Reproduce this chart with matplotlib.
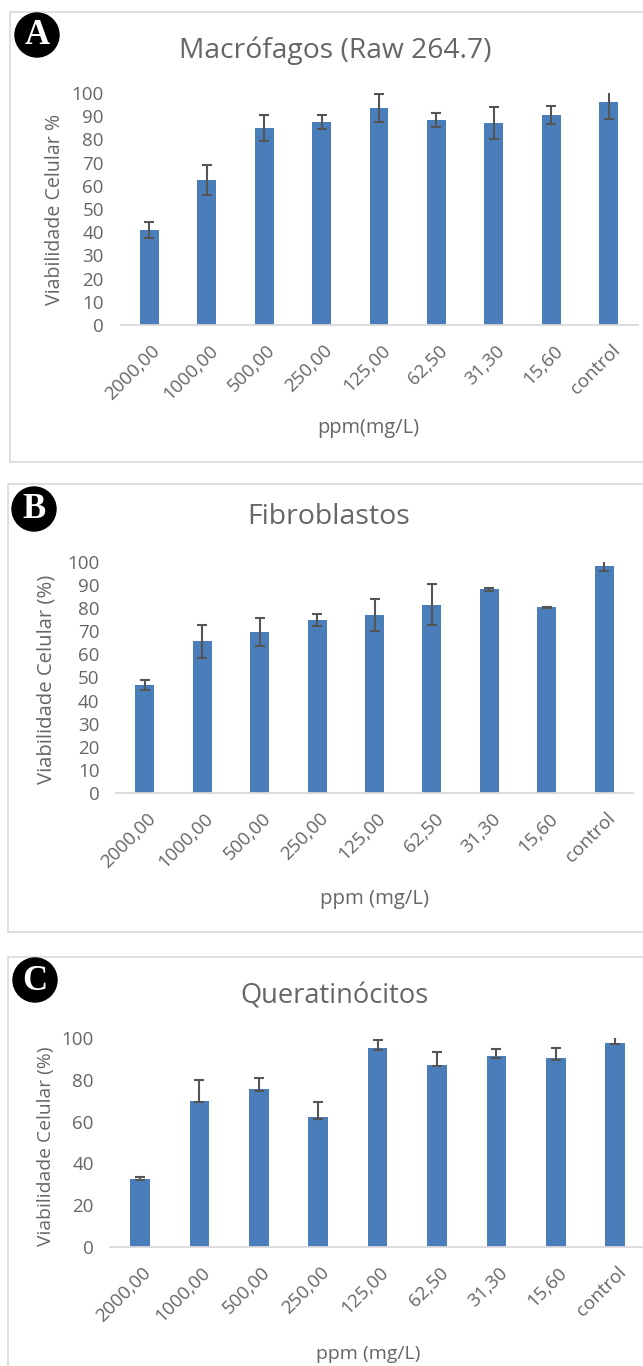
import matplotlib
matplotlib.use('Agg')
import matplotlib.pyplot as plt
from matplotlib.patches import Ellipse
from matplotlib.transforms import ScaledTranslation

W, H = 643, 1366
plt.rcParams['font.family'] = ['Open Sans', 'DejaVu Sans']

BAR = '#4a7ebb'
GREY = '#666666'
AXIS = '#d9d9d9'
ERR = '#555555'

doses = ['2000,00', '1000,00', '500,00', '250,00', '125,00', '62,50', '31,30', '15,60', 'control']

# panel A - macrofagos
mac_vals = [41, 62.5, 85, 87.5, 93.5, 88.5, 87, 90.5, 96]
mac_low = [3.5, 6.5, 5.5, 3, 6, 3, 7, 4, 7]
mac_up = [3.5, 6.5, 5.5, 3, 6, 3, 7, 4, 7]
mac_ticks = list(range(0, 101, 10))

# panel B - fibroblastos
fib_vals = [46.6, 65.6, 69.7, 75, 77, 81.2, 88.2, 80.4, 98.3]
fib_low = [2.2, 7, 6, 2.7, 7, 8.5, 0.7, 0.3, 2.2]
fib_up = [2.2, 7, 6, 2.7, 7, 9.3, 0.7, 0.3, 2.2]
fib_ticks = list(range(0, 101, 10))

# panel C - queratinocitos
que_vals = [32.6, 70, 75.5, 62, 95, 87.3, 91.4, 90.3, 97.8]
que_low = [0.6, 0.5, 0.8, 0.7, 0.6, 0.6, 0.8, 0.8, 0.7]
que_up = [0.8, 10, 5.5, 7.3, 4.2, 5.9, 3.2, 4.7, 2.5]
que_ticks = list(range(0, 101, 20))

fig = plt.figure(figsize=(W / 100, H / 100), dpi=100)

# overlay in pixel coords for frames, badges and titles
bg = fig.add_axes([0, 0, 1, 1])
bg.set_xlim(0, W)
bg.set_ylim(H, 0)
bg.axis('off')


def panel(box, vals, low, up, ticks, title, title_pos, title_size, ylabel, ylab_pos, ylab_size,
          xlabel, xlab_pos, xlab_size):
    left, right, top, bottom = box
    ax = fig.add_axes([left / W, 1 - bottom / H, (right - left) / W, (bottom - top) / H])
    ax.patch.set_alpha(0)
    x = range(len(vals))
    ax.bar(x, vals, width=0.33, color=BAR)
    ax.errorbar(x, vals, yerr=[low, up], fmt='none', ecolor=ERR, elinewidth=1.5, capsize=3.6, capthick=1.5)
    ax.set_xlim(-0.5, len(vals) - 0.5)
    ax.set_ylim(0, 100)
    ax.set_yticks(ticks)
    ax.set_xticks(list(x))
    ax.set_xticklabels(doses, rotation=45, ha='right', va='top', rotation_mode='anchor')
    ax.tick_params(axis='both', length=0, labelsize=13.5, labelcolor=GREY)
    ax.tick_params(axis='y', pad=12)
    ax.tick_params(axis='x', pad=12)
    # labels sit a little right of the bar centre
    for lab in ax.get_xticklabels():
        lab.set_transform(lab.get_transform() + ScaledTranslation(2 / 100, 0, fig.dpi_scale_trans))
    for s in ['top', 'right', 'left']:
        ax.spines[s].set_visible(False)
    ax.spines['bottom'].set_color(AXIS)
    ax.spines['bottom'].set_linewidth(1.3)
    bg.text(title_pos[0], title_pos[1], title, ha='center', va='center', fontsize=title_size, color=GREY)
    bg.text(ylab_pos[0], ylab_pos[1], ylabel, ha='center', va='center', rotation=90, fontsize=ylab_size, color=GREY)
    bg.text(xlab_pos[0], xlab_pos[1], xlabel, ha='center', va='center', fontsize=xlab_size, color=GREY)


def frame(x0, y0, y1, closed=True):
    bg.plot([W, x0, x0], [y0, y0, y1], color=AXIS, lw=1.2)
    if closed:
        bg.plot([x0, W], [y1, y1], color=AXIS, lw=1.2)


def badge(cx, cy, letter):
    bg.add_patch(Ellipse((cx, cy), 44, 44, color='black', zorder=5))
    bg.text(cx, cy + 1, letter, ha='center', va='center', fontsize=25, color='white',
            family=['Liberation Serif', 'DejaVu Serif'], fontweight='bold', zorder=6)


frame(10, 12, 462)
frame(8, 484, 932)
frame(8, 957, H + 5, closed=False)

panel((120.5, 637.5, 93, 325), mac_vals, mac_low, mac_up, mac_ticks,
      'Macrófagos (Raw 264.7)', (335, 51), 20.3, 'Viabilidade Celular %', (55, 209), 14.1,
      'ppm(mg/L)', (368, 428), 14.4)
panel((116, 633, 562, 793), fib_vals, fib_low, fib_up, fib_ticks,
      'Fibroblastos', (329, 517), 20.5, 'Viabilidade Celular (%)', (47, 679), 14.6,
      'ppm (mg/L)', (375, 899), 14.7)
panel((110.3, 645, 1038, 1247), que_vals, que_low, que_up, que_ticks,
      'Queratinócitos', (335, 997), 19.6, 'Viabilidade Celular (%)', (46, 1146), 13.9,
      'ppm (mg/L)', (368, 1354), 14)

badge(37, 35, 'A')
badge(34, 509, 'B')
badge(35, 980, 'C')

fig.savefig('out.png', dpi=100)
